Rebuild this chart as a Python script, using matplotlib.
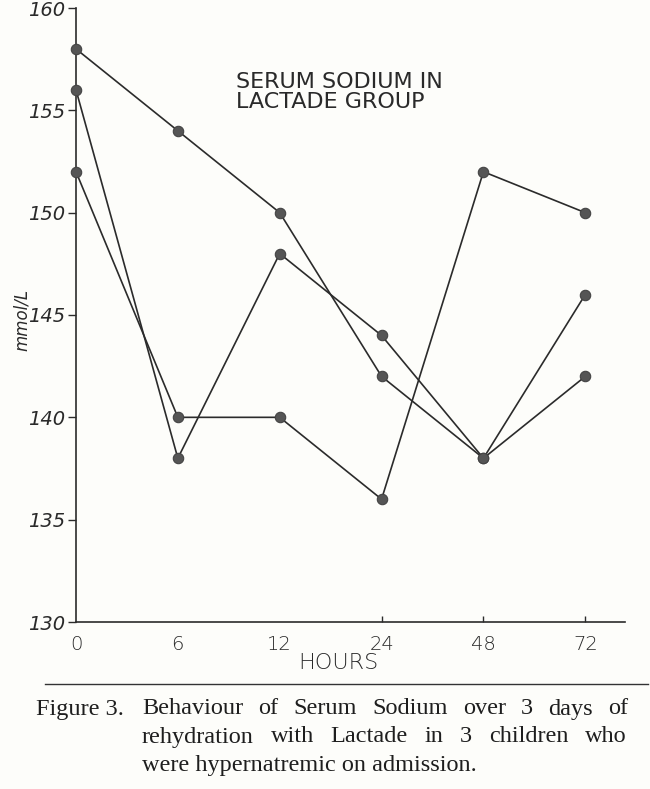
import matplotlib
matplotlib.use("Agg")
import matplotlib.pyplot as plt

hours = ["0", "6", "12", "24", "48", "72"]
child_a = [158, 154, 150, 142, 138, 146]
child_b = [156, 138, 148, 144, 138, 142]
child_c = [152, 140, 140, 136, 152, 150]
y_ticks = [130, 135, 140, 145, 150, 155, 160]
title_lines = ["SERUM SODIUM IN", "LACTADE GROUP"]
ylabel = "mmol/L"
xlabel = "HOURS"
caption_head = "Figure 3."
caption_lines = ["Behaviour of Serum Sodium over 3 days of",
                 "rehydration with Lactade in 3 children who",
                 "were hypernatremic on admission."]

W, H = 650, 789
fig = plt.figure(figsize=(W / 100, H / 100), dpi=100)
bg = "#fdfdfa"
fig.patch.set_facecolor(bg)
ax = fig.add_axes([76 / W, 1 - 622 / H, (625 - 76) / W, (622 - 8) / H])
ax.set_facecolor(bg)

xs = list(range(len(hours)))
line_c = "#2b2b2b"
mk_c = "#555555"
for s in (child_a, child_b, child_c):
    ax.plot(xs, s, color=line_c, lw=1.2, marker="o", ms=7.5,
            mfc=mk_c, mec="#444444", mew=0.8, zorder=3, clip_on=False)

ax.set_xlim(0, 5.39)
ax.set_ylim(130, 160)
ax.spines["top"].set_visible(False)
ax.spines["right"].set_visible(False)
for sp in ("left", "bottom"):
    ax.spines[sp].set_color("#2b2b2b")
    ax.spines[sp].set_linewidth(1.2)

hand = dict(family="DejaVu Sans", style="italic", color="#2a2a2a")
ax.set_yticks(y_ticks)
ax.set_yticklabels([str(v) for v in y_ticks], fontsize=14, fontweight="light", **hand)
ax.tick_params(axis="y", direction="out", length=6, width=1.0, color="#2b2b2b", pad=2)
ax.set_xticks(xs)
ax.set_xticklabels(hours, fontsize=14, fontweight="light", family="DejaVu Sans", color="#2a2a2a")
ax.tick_params(axis="x", direction="in", length=4, width=1.0, color="#2b2b2b", pad=9)
for i, t in enumerate(ax.xaxis.get_major_ticks()):
    if i < 3:
        t.tick1line.set_visible(False)

fig.text(22 / W, 1 - 320 / H, ylabel, rotation=90, ha="center", va="center",
         fontsize=12, **hand)
fig.text(338 / W, 1 - 663 / H, xlabel, ha="center", va="center",
         fontsize=16, family="DejaVu Sans", color="#2a2a2a", fontweight="light")
for txt, yp in zip(title_lines, (82, 102)):
    fig.text(236 / W, 1 - yp / H, txt, ha="left", va="center", fontsize=16,
             family="DejaVu Sans", color="#2a2a2a")

# rule above caption
fig.add_artist(plt.Line2D([45 / W, 648 / W], [1 - 684 / H, 1 - 684 / H],
                          color="#333333", lw=1.0))

serif = dict(family="Liberation Serif", fontsize=17.5, color="#1e1e1e", va="center")
fig.text(36 / W, 1 - 709 / H, caption_head, ha="left", **serif)

fig.canvas.draw()
renderer = fig.canvas.get_renderer()


def justify(line, x0, x1, ypix):
    words = line.split()
    arts = [fig.text(0, 1 - ypix / H, w, ha="left", **serif) for w in words]
    widths = [a.get_window_extent(renderer).width for a in arts]
    gap = (x1 - x0 - sum(widths)) / (len(words) - 1)
    x = x0
    for a, w in zip(arts, widths):
        a.set_x(x / W)
        x += w + gap


justify(caption_lines[0], 142, 628, 709)
justify(caption_lines[1], 142, 627, 737)
fig.text(142 / W, 1 - 765 / H, caption_lines[2], ha="left", **serif)

fig.savefig("out.png", dpi=100, facecolor=bg)
